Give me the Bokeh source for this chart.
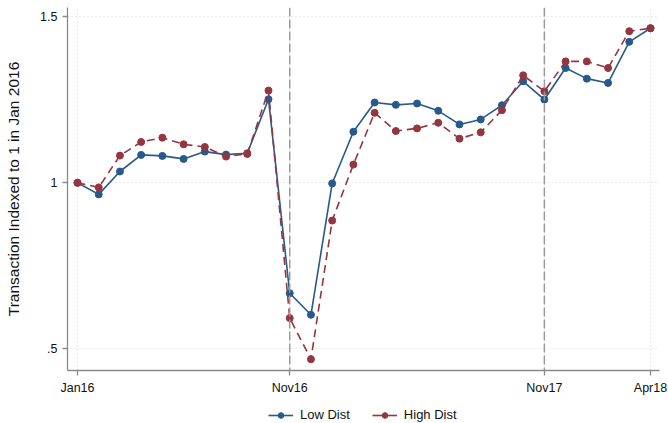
from bokeh.plotting import figure
from bokeh.layouts import column
from bokeh.models import FixedTicker, Span, Legend, LegendItem, Range1d
from bokeh.embed import file_html
from bokeh.resources import INLINE

months = ["Jan16", "Feb16", "Mar16", "Apr16", "May16", "Jun16", "Jul16", "Aug16",
          "Sep16", "Oct16", "Nov16", "Dec16", "Jan17", "Feb17", "Mar17", "Apr17",
          "May17", "Jun17", "Jul17", "Aug17", "Sep17", "Oct17", "Nov17", "Dec17",
          "Jan18", "Feb18", "Mar18", "Apr18"]
low_dist = [1.000, 0.965, 1.034, 1.084, 1.081, 1.072, 1.094, 1.085, 1.089, 1.252,
            0.667, 0.602, 0.998, 1.154, 1.242, 1.235, 1.239, 1.217, 1.176, 1.191,
            1.234, 1.306, 1.251, 1.346, 1.314, 1.301, 1.425, 1.466]
high_dist = [1.000, 0.986, 1.082, 1.123, 1.136, 1.116, 1.108, 1.079, 1.087, 1.278,
             0.592, 0.468, 0.886, 1.055, 1.211, 1.156, 1.164, 1.181, 1.133, 1.152,
             1.219, 1.324, 1.276, 1.366, 1.366, 1.346, 1.457, 1.466]
x_tick_labels = ["Jan16", "Nov16", "Nov17", "Apr18"]
y_ticks = [0.5, 1.0, 1.5]
y_tick_labels = [".5", "1", "1.5"]
event_labels = ["Nov16", "Nov17"]
series_names = ["Low Dist", "High Dist"]

x_idx = list(range(len(months)))
x_ticks = [months.index(m) for m in x_tick_labels]
event_pos = [months.index(m) for m in event_labels]

BLUE = "#27598a"
RED = "#953540"
FONT = "Liberation Sans"

p = figure(width=668, height=397, output_backend="svg", toolbar_location=None,
           x_range=Range1d(-0.471, 27.424), y_range=Range1d(0.434, 1.5285),
           min_border_left=67, min_border_right=9, min_border_top=7,
           min_border_bottom=26)
p.outline_line_color = None
p.background_fill_color = "white"
p.border_fill_color = "white"

# axes
p.xaxis.ticker = FixedTicker(ticks=x_ticks)
p.xaxis.major_label_overrides = {t: l for t, l in zip(x_ticks, x_tick_labels)}
p.yaxis.ticker = FixedTicker(ticks=y_ticks)
p.yaxis.major_label_overrides = {t: l for t, l in zip(y_ticks, y_tick_labels)}
for ax in (p.xaxis, p.yaxis):
    ax.axis_line_color = "#8a8a8a"
    ax.axis_line_width = 1.3
    ax.major_tick_line_color = "#8a8a8a"
    ax.major_tick_line_width = 1.3
    ax.major_tick_out = 5
    ax.major_tick_in = 0
    ax.minor_tick_line_color = None
    ax.major_label_text_font = FONT
    ax.major_label_text_font_size = "12.5px"
    ax.major_label_text_color = "#111111"
    ax.major_label_standoff = 5
p.yaxis.major_label_orientation = "horizontal"
p.yaxis.axis_label = "Transaction Indexed to 1 in Jan 2016"
p.yaxis.axis_label_text_font = FONT
p.yaxis.axis_label_text_font_size = "15.5px"
p.yaxis.axis_label_text_font_style = "normal"
p.yaxis.axis_label_text_color = "#111111"
p.yaxis.axis_label_standoff = 15

# grids
p.xgrid.ticker = FixedTicker(ticks=x_ticks)
p.ygrid.ticker = FixedTicker(ticks=y_ticks)
for g in (p.xgrid, p.ygrid):
    g.grid_line_color = "#d4d4d4"
    g.grid_line_dash = "1 3"
    g.grid_line_width = 1

# event lines
for pos in event_pos:
    p.add_layout(Span(location=pos, dimension="height", line_color="#9a9a9a",
                      line_width=1.5, line_dash="9 3"))

p.line(x_idx, low_dist, line_color=BLUE, line_width=1.6)
p.scatter(x_idx, low_dist, size=7, fill_color=BLUE, line_color=BLUE)
p.line(x_idx, high_dist, line_color=RED, line_width=1.6, line_dash="8 5")
p.scatter(x_idx, high_dist, size=7, fill_color=RED, line_color=RED)

# legend strip below the chart (its glyph renderers sit outside its fixed range)
lg = figure(width=668, height=26, output_backend="svg", toolbar_location=None,
            x_range=Range1d(0, 1), y_range=Range1d(0, 1),
            x_axis_location=None, y_axis_location=None,
            min_border_left=0, min_border_right=0, min_border_top=0,
            min_border_bottom=0)
lg.outline_line_color = None
lg.xgrid.visible = False
lg.ygrid.visible = False
lg.background_fill_color = "white"
lg.border_fill_color = "white"
off = [-10, -9]
d1 = lg.line(off, off, line_color=BLUE, line_width=1.6)
e1 = lg.scatter(off, off, size=7, fill_color=BLUE, line_color=BLUE)
d2 = lg.line(off, off, line_color=RED, line_width=1.6)
e2 = lg.scatter(off, off, size=7, fill_color=RED, line_color=RED)
legend = Legend(items=[LegendItem(label=series_names[0], renderers=[d1, e1]),
                       LegendItem(label=series_names[1], renderers=[d2, e2])],
                orientation="horizontal", location=(201, 1),
                padding=0, margin=0, spacing=22, label_standoff=7,
                glyph_width=25, glyph_height=14, label_height=14,
                border_line_color=None, background_fill_alpha=0,
                label_text_font=FONT, label_text_font_size="13px",
                label_text_color="#111111")
lg.add_layout(legend, "center")

layout = column(p, lg, spacing=0)
open("out.html", "w").write(file_html(layout, INLINE))
